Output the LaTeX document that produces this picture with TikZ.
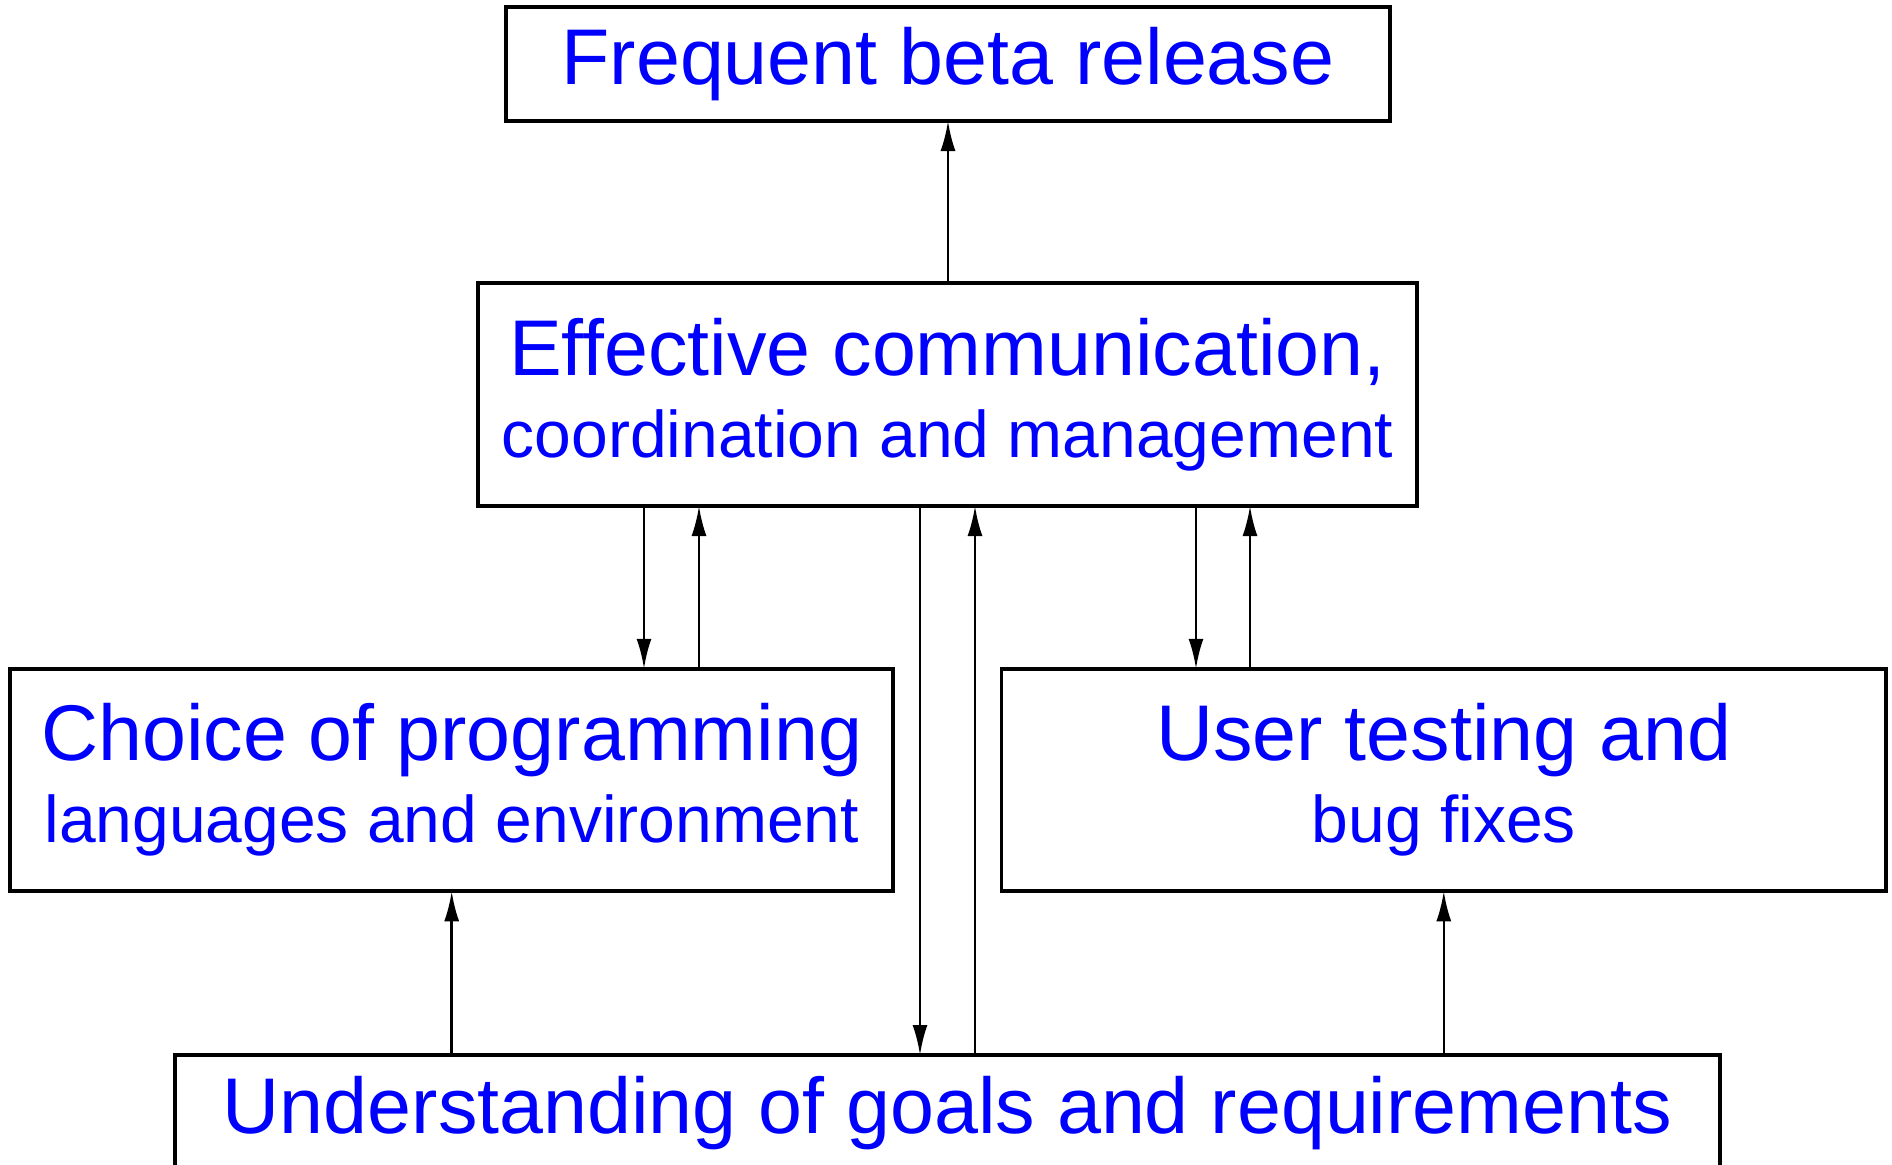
\documentclass[tikz,border=0pt]{standalone}
\usepackage{fontspec}
\setmainfont{Liberation Sans}
\usepackage{tikz}
\usetikzlibrary{arrows.meta,positioning,calc}

\begin{document}
\begin{tikzpicture}[auto, >={Latex[length=15pt,width=7.5pt]},
  box/.style={draw, line width=1.8pt, inner sep=0pt, align=center, text=blue,
    font=\fontsize{39.5}{41}\selectfont},
  link/.style={->, line width=1.3pt, shorten >=-0.9pt}]
  \useasboundingbox (0,0) rectangle (946pt,-582pt);
  \node [box, minimum width=442pt, minimum height=57pt] (beta) at (474pt,-32pt) {Frequent beta release};
  \node [box, minimum width=469.5pt, minimum height=111.5pt] (comm) at (473.75pt,-197.25pt)
    {Effective communication,\\\fontsize{33}{41}\selectfont coordination and management};
  \node [box, minimum width=441.5pt, minimum height=111.25pt] (lang) at (225.85pt,-390pt)
    {Choice of programming\\\fontsize{33}{41}\selectfont languages and environment};
  \node [box, minimum width=442.25pt, minimum height=111.25pt] (test) at (721.9pt,-390pt)
    {User testing and\\\fontsize{33}{41}\selectfont bug fixes};
  \node [box, minimum width=772.5pt, minimum height=58pt] (goal) at (473.75pt,-556.5pt)
    {Understanding of goals and requirements};
  \coordinate (l1) at (322pt,0);
  \coordinate (l2) at (349.5pt,0);
  \coordinate (m1) at (460pt,0);
  \coordinate (m2) at (487.5pt,0);
  \coordinate (r1) at (598pt,0);
  \coordinate (r2) at (625pt,0);
  \draw [link] (comm.north -| beta.south) -- (beta.south);
  \draw [link] (comm.south -| l1) -- (lang.north -| l1);
  \draw [link] (lang.north -| l2) -- (comm.south -| l2);
  \draw [link] (comm.south -| m1) -- (goal.north -| m1);
  \draw [link] (goal.north -| m2) -- (comm.south -| m2);
  \draw [link] (comm.south -| r1) -- (test.north -| r1);
  \draw [link] (test.north -| r2) -- (comm.south -| r2);
  \draw [link] (goal.north -| lang.south) -- (lang.south);
  \draw [link] (goal.north -| test.south) -- (test.south);
\end{tikzpicture}
\end{document}
